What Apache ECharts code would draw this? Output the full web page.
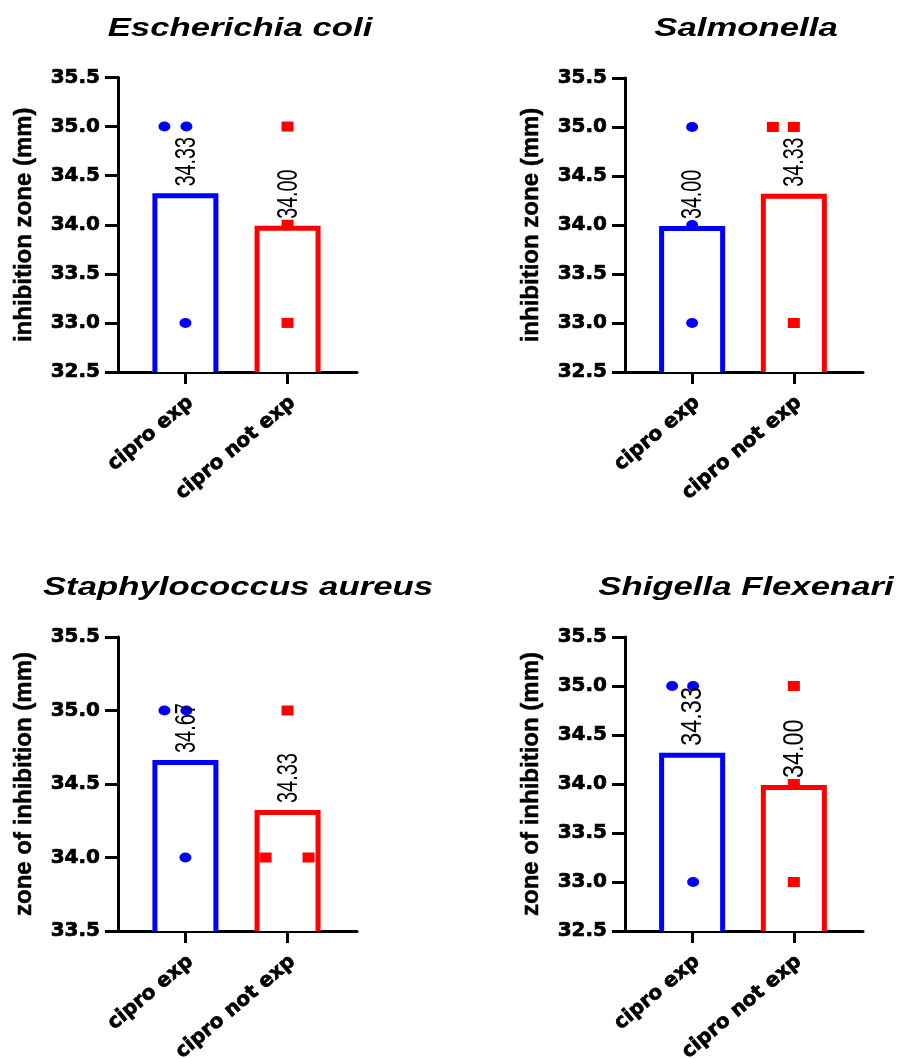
<!DOCTYPE html>
<html>
<head>
<meta charset="utf-8">
<script src="https://cdn.jsdelivr.net/npm/echarts@6/dist/echarts.min.js"></script>
<style>html,body{margin:0;padding:0;background:#fff}#c{width:899px;height:1059px}</style>
</head>
<body>
<div id="c"></div>
<script>
// ---------------- data ----------------
const categories = ['cipro exp', 'cipro not exp'];
const panelTitles = ['Escherichia coli', 'Salmonella', 'Staphylococcus aureus', 'Shigella Flexenari'];
const yTitles = ['inhibition zone (mm)', 'inhibition zone (mm)', 'zone of inhibition (mm)', 'zone of inhibition (mm)'];
const yTicksWide = [32.5, 33.0, 33.5, 34.0, 34.5, 35.0, 35.5];
const yTicksNarrow = [33.5, 34.0, 34.5, 35.0, 35.5];

const ecoliExp = [35, 35, 33];
const ecoliNotExp = [35, 34, 33];
const ecoliMeans = [34.33, 34.00];

const salmonellaExp = [35, 34, 33];
const salmonellaNotExp = [35, 35, 33];
const salmonellaMeans = [34.00, 34.33];

const staphExp = [35, 35, 34];
const staphNotExp = [35, 34, 34];
const staphMeans = [34.67, 34.33];

const shigellaExp = [35, 35, 33];
const shigellaNotExp = [35, 34, 33];
const shigellaMeans = [34.33, 34.00];

// ---------------- layout / style ----------------
const panels = [
  {exp: ecoliExp, notExp: ecoliNotExp, means: ecoliMeans, ticks: yTicksWide,
   grid: {left: 118, top: 77.5, width: 239, height: 294.5}, titleX: 240, titleY: 29,
   jitExp: [-21, 1, 0], jitNot: [0, 0, 0], labelScale: 0.655},
  {exp: salmonellaExp, notExp: salmonellaNotExp, means: salmonellaMeans, ticks: yTicksWide,
   grid: {left: 625, top: 78, width: 238, height: 294}, titleX: 746, titleY: 29,
   jitExp: [0, 0, 0], jitNot: [-21, 0, 0], labelScale: 0.655},
  {exp: staphExp, notExp: staphNotExp, means: staphMeans, ticks: yTicksNarrow,
   grid: {left: 118, top: 637, width: 239, height: 294}, titleX: 238, titleY: 588,
   jitExp: [-21, 1, 0], jitNot: [0, -22, 21], labelScale: 0.665},
  {exp: shigellaExp, notExp: shigellaNotExp, means: shigellaMeans, ticks: yTicksWide,
   grid: {left: 625, top: 637, width: 238, height: 294}, titleX: 746, titleY: 588,
   jitExp: [-20, 1, 1], jitNot: [0, 0, 0], labelScale: 0.78}
];
const colors = ['#0000ff', '#ff0000'];
const symbols = ['circle', 'rect'];
const tickFont = {fontFamily: 'DejaVu Sans', fontWeight: 'bold', color: '#000',
                  textBorderColor: '#000', textBorderWidth: 0.7};
const BAR_OUTER = 66, BAR_STROKE = 5;

const grid = [], xAxis = [], yAxis = [], series = [], graphic = [];

panels.forEach((p, i) => {
  const yMin = p.ticks[0];
  grid.push(Object.assign({containLabel: false, outerBoundsMode: 'none'}, p.grid));
  xAxis.push({
    type: 'value', gridIndex: i, min: -0.66, max: 1.68, z: 1,
    axisLine: {show: true, onZero: false, lineStyle: {color: '#000', width: 3}},
    axisTick: {show: true, customValues: [0, 1], length: 12, lineStyle: {color: '#000', width: 3}},
    axisLabel: Object.assign({customValues: [0.05, 1.05], rotate: 40, margin: 28, fontSize: 20,
      formatter: v => categories[Math.round(v)]}, tickFont),
    splitLine: {show: false}
  });
  yAxis.push({
    type: 'value', gridIndex: i, z: 1,
    min: yMin, max: p.ticks[p.ticks.length - 1], interval: 0.5,
    name: yTitles[i], nameLocation: 'middle', nameGap: 82,
    nameTextStyle: {fontFamily: 'Liberation Sans', fontWeight: 'bold', fontSize: 24, color: '#000',
                    textBorderColor: '#000', textBorderWidth: 0.5},
    axisLine: {show: true, onZero: false, lineStyle: {color: '#000', width: 3}},
    axisTick: {show: true, length: 13, lineStyle: {color: '#000', width: 3}},
    axisLabel: Object.assign({margin: 18, fontSize: 20, formatter: v => v.toFixed(1)}, tickFont),
    splitLine: {show: false}
  });
  // open-bottom bars with the border drawn inside the bar outline
  series.push({
    type: 'custom', xAxisIndex: i, yAxisIndex: i, z: 2, clip: false,
    data: p.means.map((m, j) => [j, m]),
    renderItem: (params, api) => {
      const j = api.value(0);
      const top = api.coord([j, api.value(1)]);
      const base = api.coord([j, yMin]);
      const half = BAR_OUTER / 2, inset = BAR_STROKE / 2;
      const yTop = top[1] + 1 + inset;
      return {
        type: 'group',
        children: [
          {type: 'rect', shape: {x: top[0] - half, y: top[1] + 1, width: BAR_OUTER, height: base[1] - top[1] - 1},
           style: {fill: '#fff'}},
          {type: 'polyline',
           shape: {points: [[top[0] - half + inset, base[1]], [top[0] - half + inset, yTop],
                            [top[0] + half - inset, yTop], [top[0] + half - inset, base[1]]]},
           style: {stroke: colors[j], lineWidth: BAR_STROKE, fill: null, lineJoin: 'miter'}}
        ]
      };
    }
  });
  [p.exp, p.notExp].forEach((reps, j) => {
    const jit = j === 0 ? p.jitExp : p.jitNot;
    series.push({
      type: 'scatter', xAxisIndex: i, yAxisIndex: i, z: 3,
      symbol: symbols[j], symbolSize: [12, 10],
      itemStyle: {color: colors[j], opacity: 1},
      data: reps.map((v, k) => ({value: [j, v], symbolOffset: [jit[k], 0]}))
    });
  });
  series.push({
    type: 'custom', xAxisIndex: i, yAxisIndex: i, z: 5, clip: false,
    data: p.means.map((m, j) => [j, m]),
    renderItem: (params, api) => {
      const pt = api.coord([api.value(0), api.value(1)]);
      return {
        type: 'text', x: pt[0] + 1, y: pt[1] - 6, rotation: Math.PI / 2, scaleX: p.labelScale,
        style: {text: api.value(1).toFixed(2), font: '30px "Liberation Sans"', fill: '#000',
                align: 'left', verticalAlign: 'middle'}
      };
    }
  });
  graphic.push({
    type: 'text', x: p.titleX, y: p.titleY, scaleX: 1.39,
    style: {text: panelTitles[i], font: 'italic bold 25px "Liberation Sans"', fill: '#000',
            align: 'center', verticalAlign: 'middle'}
  });
});

const chart = echarts.init(document.getElementById('c'), null, {renderer: 'canvas'});
chart.setOption({
  backgroundColor: '#fff', animation: false,
  grid, xAxis, yAxis, series, graphic
});
</script>
</body>
</html>
